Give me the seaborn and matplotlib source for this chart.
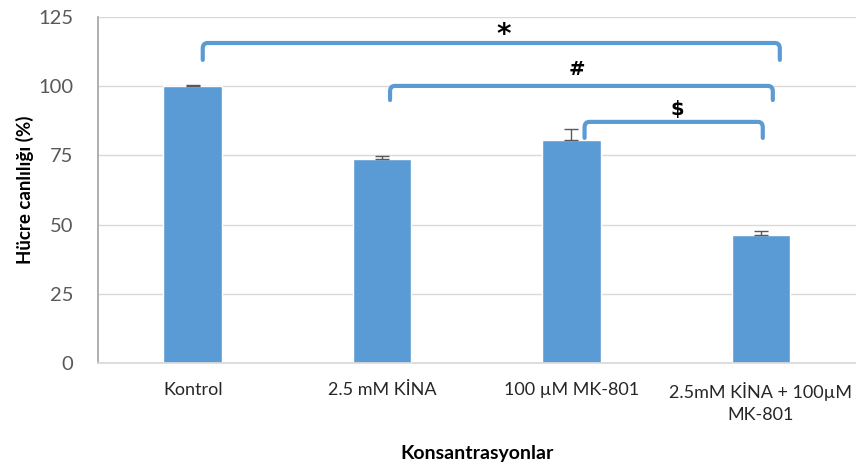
import matplotlib
matplotlib.use("Agg")
import matplotlib.pyplot as plt
import seaborn as sns
import pandas as pd
import numpy as np
from matplotlib.path import Path
from matplotlib.patches import PathPatch

categories = ["Kontrol", "2.5 mM KİNA", "100 µM MK-801", "2.5mM KİNA + 100µM\nMK-801"]
viability = [100.0, 73.6, 80.5, 46.3]
errors = [0.5, 1.1, 3.9, 1.4]

# significance brackets: symbol, left x, right x, top level, bottom of the legs
bracket_symbols = ["*", "#", "$"]
bracket_left = [0.053, 1.042, 2.069]
bracket_right = [3.10, 3.063, 3.01]
bracket_top = [115.6, 100.1, 87.1]
bracket_bottom = [109.5, 95.0, 81.3]
symbol_x = [1.64, 2.03, 2.56]
symbol_y = [120.4, 105.9, 91.4]

y_ticks = [0, 25, 50, 75, 100, 125]

sns.set_theme(style="white")
plt.rcParams["font.family"] = ["Lato", "DejaVu Sans"]

bar_color = "#5B9BD5"
tick_color = "#595959"

df = pd.DataFrame({"group": categories, "value": viability})

fig = plt.figure(figsize=(8.56, 4.72), dpi=100)
ax = fig.add_axes([0.1145, 0.231, 0.885, 0.733])

sns.barplot(data=df, x="group", y="value", color=bar_color, width=0.31,
            saturation=1, ax=ax, errorbar=None)

xs = np.arange(len(categories))
ax.errorbar(xs, viability, yerr=[np.zeros(len(errors)), errors], fmt="none",
            ecolor="#595959", elinewidth=1, capsize=5, capthick=1, zorder=3)

ax.set_ylim(0, 125)
ax.set_xlim(-0.5, len(categories) - 0.5)
ax.set_yticks(y_ticks)
ax.set_yticklabels([str(t) for t in y_ticks], fontsize=14.5, color=tick_color)
ax.tick_params(axis="y", length=0, pad=18)
ax.tick_params(axis="x", length=0, pad=14, labelsize=13, colors="#262626")
for lbl in ax.get_xticklabels():
    lbl.set_linespacing(1.45)

ax.yaxis.grid(True, color="#D9D9D9", linewidth=1)
ax.set_axisbelow(True)
for side in ["top", "right"]:
    ax.spines[side].set_visible(False)
ax.spines["left"].set_color("#A6A6A6")
ax.spines["bottom"].set_color("#D9D9D9")

ax.set_xlabel("Konsantrasyonlar", fontsize=14, fontweight="bold", color="black", labelpad=16)
ax.set_ylabel("Hücre canlılığı (%)", fontsize=13.5, fontweight="bold", color="black", labelpad=3)


def draw_bracket(x0, x1, top, bottom):
    rx, ry = 0.025, 2.0
    verts = [
        (x0, bottom), (x0, top - ry), (x0, top), (x0 + rx, top),
        (x1 - rx, top), (x1, top), (x1, top - ry), (x1, bottom),
    ]
    codes = [Path.MOVETO, Path.LINETO, Path.CURVE3, Path.CURVE3,
             Path.LINETO, Path.CURVE3, Path.CURVE3, Path.LINETO]
    patch = PathPatch(Path(verts, codes), fill=False, edgecolor=bar_color,
                      linewidth=3, capstyle="round", joinstyle="round", zorder=4)
    ax.add_patch(patch)


for sym, x0, x1, top, bottom, sx, sy in zip(bracket_symbols, bracket_left, bracket_right,
                                             bracket_top, bracket_bottom, symbol_x, symbol_y):
    draw_bracket(x0, x1, top, bottom)
    size = 20 if sym == "*" else 14
    dy = -2.0 if sym == "*" else 0
    ax.text(sx, sy + dy, sym, ha="center", va="center", fontsize=size,
            fontweight="bold", color="black", family=["DejaVu Sans"])

fig.savefig("out.png", dpi=100)
